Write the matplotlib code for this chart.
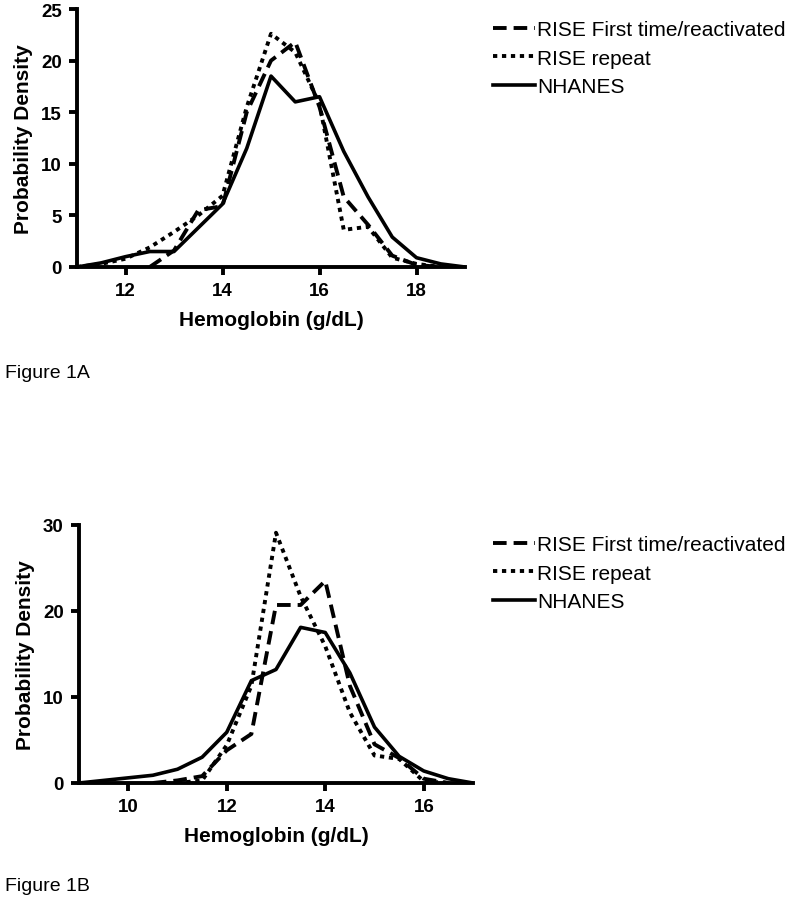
import matplotlib
matplotlib.use("Agg")
from matplotlib import pyplot as plt

plt.rcParams['font.family'] = ['Liberation Sans', 'DejaVu Sans']

# Figure 1A
hb_a = [11, 11.5, 12, 12.5, 13, 13.5, 14, 14.5, 15, 15.5, 16, 16.5, 17, 17.5, 18, 18.5, 19]
first_a = [None, None, None, 0, 1.6, 5.5, 5.9, 15.0, 20.0, 21.8, 15.5, 6.8, 4.1, 1.1, 0.2, 0, None]
repeat_a = [0, 0.3, 0.8, 1.9, 3.4, 5.0, 6.9, 15.5, 22.6, 20.8, 15.8, 3.6, 3.9, 0.9, 0.3, 0, None]
nhanes_a = [0, 0.4, 1.0, 1.5, 1.5, 3.8, 6.1, 11.5, 18.5, 16.0, 16.5, 11.2, 6.8, 2.9, 0.9, 0.3, 0]

# Figure 1B
hb_b = [9, 9.5, 10, 10.5, 11, 11.5, 12, 12.5, 13, 13.5, 14, 14.5, 15, 15.5, 16, 16.5, 17]
first_b = [None, None, None, 0, 0.3, 0.8, 3.8, 5.7, 20.7, 20.7, 23.5, 11.3, 4.5, 2.9, 0.5, 0, None]
repeat_b = [None, None, None, None, 0, 0.3, 4.4, 11.3, 29.1, 21.7, 15.9, 8.2, 3.2, 2.8, 0.2, 0, None]
nhanes_b = [0, 0.3, 0.6, 0.9, 1.6, 3.0, 5.9, 11.9, 13.2, 18.1, 17.5, 12.8, 6.5, 3.1, 1.4, 0.5, 0]

labels = ['RISE First time/reactivated', 'RISE repeat', 'NHANES']


def clean(xs, ys):
    pts = [(x, y) for x, y in zip(xs, ys) if y is not None]
    return [p[0] for p in pts], [p[1] for p in pts]


fig = plt.figure(figsize=(8, 9.04), dpi=100)


def panel(rect, hb, first, repeat, nhanes, xlim, ylim, xticks, yticks, leg_y, fig_label, fig_label_y):
    ax = fig.add_axes(rect)
    x, y = clean(hb, first)
    l1, = ax.plot(x, y, color='black', lw=2.8, dashes=(3.5, 1.8))
    x, y = clean(hb, repeat)
    l2, = ax.plot(x, y, color='black', lw=2.8, dashes=(1.1, 1.2))
    x, y = clean(hb, nhanes)
    l3, = ax.plot(x, y, color='black', lw=2.6)
    ax.set_xlim(*xlim)
    ax.set_ylim(*ylim)
    ax.set_xticks(xticks)
    ax.set_yticks(yticks)
    for s in ['top', 'right']:
        ax.spines[s].set_visible(False)
    for s in ['left', 'bottom']:
        ax.spines[s].set_linewidth(2.8)
    ax.tick_params(width=2.8, length=6, labelsize=13.5, pad=5)
    for t in ax.get_xticklabels() + ax.get_yticklabels():
        t.set_fontweight('bold')
    ax.set_xlabel('Hemoglobin (g/dL)', fontsize=15, fontweight='bold', labelpad=8)
    ax.set_ylabel('Probability Density', fontsize=15, fontweight='bold', labelpad=6)
    fig.legend([l1, l2, l3], labels, loc='upper left', frameon=False,
               bbox_to_anchor=(485 / 800, leg_y), fontsize=15,
               handlelength=2.0, handletextpad=0.1, labelspacing=0.45, borderaxespad=0)
    fig.text(5 / 800, fig_label_y, fig_label, fontsize=14, va='center')
    return ax


panel([77 / 800, 1 - 268 / 904, 388 / 800, 258 / 904], hb_a, first_a, repeat_a, nhanes_a,
      (11, 19), (0, 25), [12, 14, 16, 18], [0, 5, 10, 15, 20, 25],
      1 - 13 / 904, 'Figure 1A', 1 - 373 / 904)
panel([79 / 800, 1 - 784 / 904, 394 / 800, 258 / 904], hb_b, first_b, repeat_b, nhanes_b,
      (9, 17), (0, 30), [10, 12, 14, 16], [0, 10, 20, 30],
      1 - 528 / 904, 'Figure 1B', 1 - 887 / 904)

fig.savefig('out.png', dpi=100)
